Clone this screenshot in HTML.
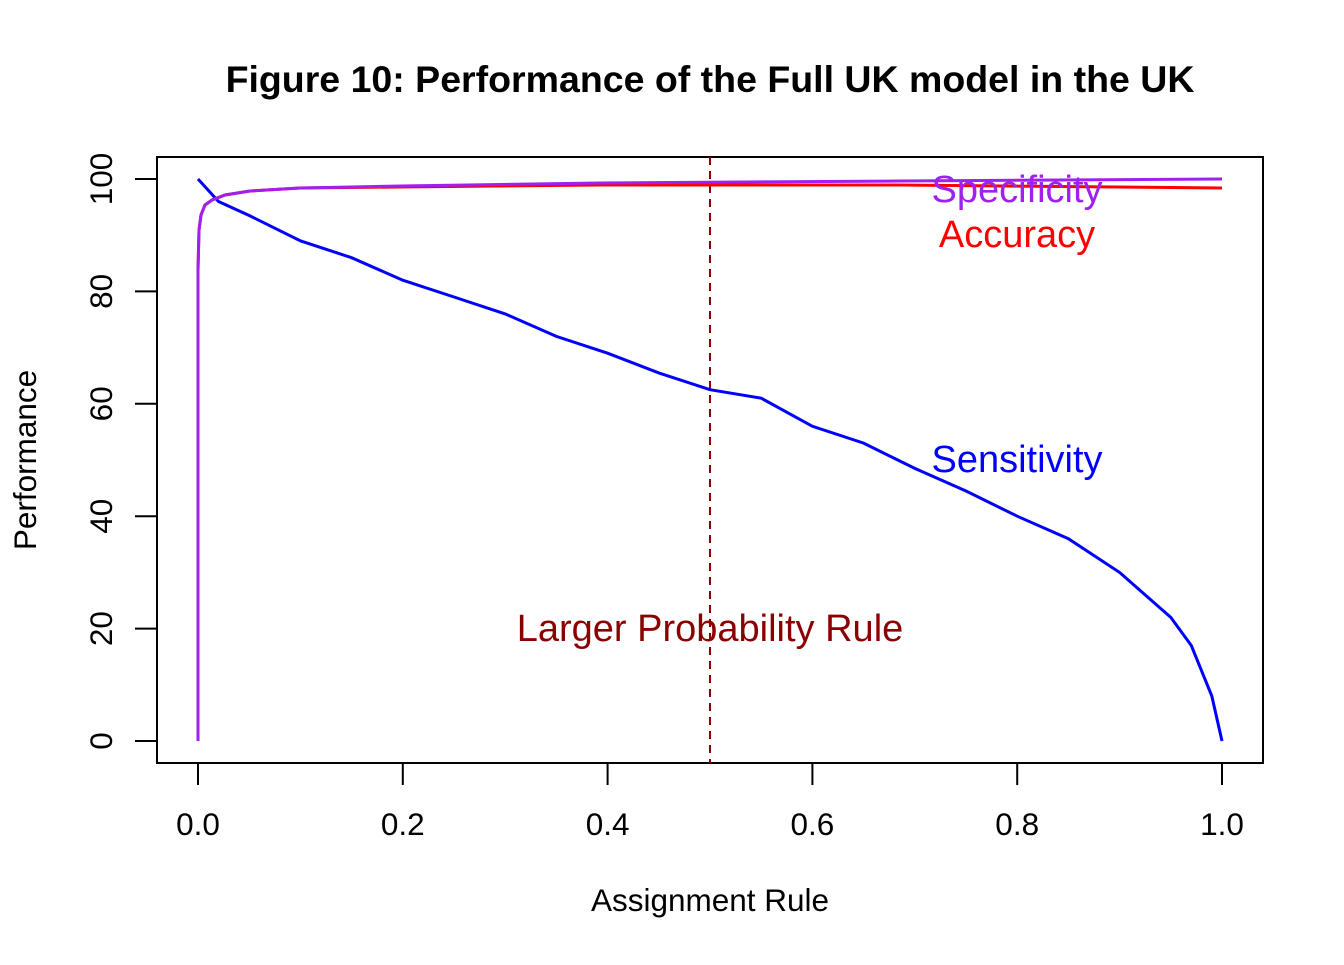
<!DOCTYPE html>
<html><head><meta charset="utf-8"><style>body{margin:0;background:#fff}</style></head>
<body>
<svg width="1344" height="960" xmlns="http://www.w3.org/2000/svg" font-family="Liberation Sans, Arial, sans-serif">
<rect width="1344" height="960" fill="#fff"/>
<text x="710" y="92" text-anchor="middle" font-size="37.5" font-weight="bold">Figure 10: Performance of the Full UK model in the UK</text>
<rect x="157" y="157" width="1106" height="606" fill="none" stroke="#000" stroke-width="2"/>
<g stroke="#000" stroke-width="2">
<line x1="198" y1="763" x2="1222" y2="763"/>
<line x1="198" y1="763" x2="198" y2="785"/><line x1="402.8" y1="763" x2="402.8" y2="785"/>
<line x1="607.6" y1="763" x2="607.6" y2="785"/><line x1="812.4" y1="763" x2="812.4" y2="785"/>
<line x1="1017.2" y1="763" x2="1017.2" y2="785"/><line x1="1222" y1="763" x2="1222" y2="785"/>
<line x1="157" y1="179" x2="157" y2="741"/>
<line x1="135" y1="741" x2="157" y2="741"/><line x1="135" y1="628.6" x2="157" y2="628.6"/>
<line x1="135" y1="516.2" x2="157" y2="516.2"/><line x1="135" y1="403.8" x2="157" y2="403.8"/>
<line x1="135" y1="291.4" x2="157" y2="291.4"/><line x1="135" y1="179" x2="157" y2="179"/>
</g>
<g font-size="31.5" text-anchor="middle">
<text x="198" y="835">0.0</text><text x="402.8" y="835">0.2</text><text x="607.6" y="835">0.4</text>
<text x="812.4" y="835">0.6</text><text x="1017.2" y="835">0.8</text><text x="1222" y="835">1.0</text>
<text transform="translate(112,741) rotate(-90)">0</text>
<text transform="translate(112,628.6) rotate(-90)">20</text>
<text transform="translate(112,516.2) rotate(-90)">40</text>
<text transform="translate(112,403.8) rotate(-90)">60</text>
<text transform="translate(112,291.4) rotate(-90)">80</text>
<text transform="translate(112,179) rotate(-90)">100</text>
<text x="710" y="911">Assignment Rule</text>
<text transform="translate(36,460) rotate(-90)">Performance</text>
</g>
<line x1="710" y1="157" x2="710" y2="763" stroke="#8b0000" stroke-width="2" stroke-dasharray="8,6"/>
<polyline fill="none" stroke="#0000ff" stroke-width="3" points="198,179 218.5,201.5 249.2,215.5 300.4,240.8 351.6,257.7 402.8,280.2 454,297 505.2,313.9 556.4,336.4 607.6,353.2 658.8,372.9 710,389.7 761.2,398.2 812.4,426.3 863.6,443.1 914.8,468.4 966,491 1017.2,516.2 1068.4,538.7 1119.6,572.4 1170.8,617.4 1191.3,645.5 1211.8,696 1222,741"/>
<polyline fill="none" stroke="#ff0000" stroke-width="3" points="198,741 198,270 199,230 201,215 205,205 212,200 225,195 250,191 300,188 400,187 600,185 900,185 1222,188"/>
<polyline fill="none" stroke="#a020f0" stroke-width="3" points="198,741 198,270 199,230 201,215 205,205 212,200 225,195 250,191 300,188 400,186 600,183 900,181 1222,179"/>
<g font-size="38" text-anchor="middle">
<text x="1017" y="202" fill="#a020f0">Specificity</text>
<text x="1017" y="247" fill="#ff0000">Accuracy</text>
<text x="1017" y="472" fill="#0000ff">Sensitivity</text>
<text x="710" y="641" fill="#8b0000">Larger Probability Rule</text>
</g>
</svg>
</body></html>
